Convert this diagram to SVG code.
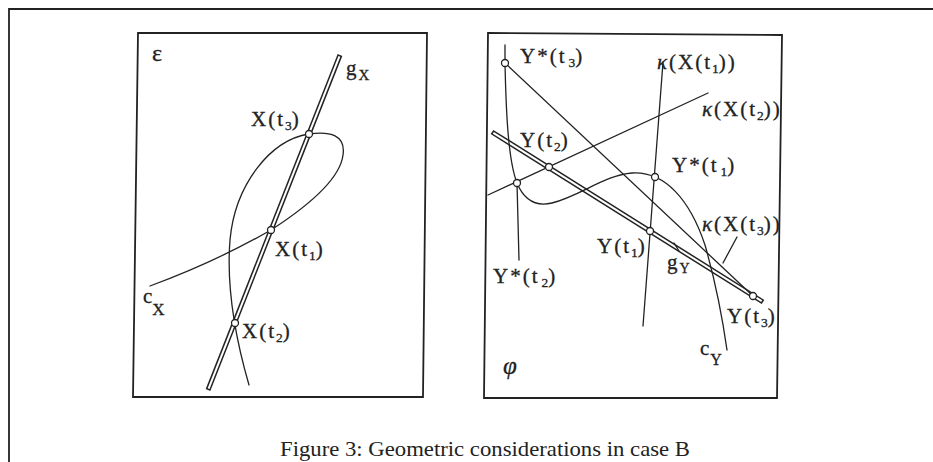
<svg xmlns="http://www.w3.org/2000/svg" width="933" height="462" viewBox="0 0 933 462">
<style>
.frame{fill:none;stroke:#222;stroke-width:1.8}
.thin{fill:none;stroke:#222;stroke-width:1.3;stroke-linecap:round}
.dbo{fill:none;stroke:#222;stroke-width:5}
.dbi{fill:none;stroke:#fff;stroke-width:2}
.pt{fill:#fff;stroke:#222;stroke-width:1.3}
.lb{font-family:"Liberation Serif","Times New Roman",serif;font-size:21px;letter-spacing:2px;fill:#222;stroke:#222;stroke-width:0.3}
.sub{font-size:13.5px;letter-spacing:0}
.gr{font-style:italic}
.cap{font-family:"Liberation Serif","Times New Roman",serif;font-size:22px;fill:#222}
</style>
<rect width="933" height="462" fill="#fff"/>
<path class="frame" d="M933,9 L9,9 L9,462"/>

<g id="panel-epsilon">
  <polygon class="frame" points="138,33 427,33 423,397 133,397"/>
  <text class="lb" x="152" y="61" style="font-size:24px">ε</text>
</g>

<g id="panel-phi">
  <polygon class="frame" points="488,33 782,35 777,398 484,398"/>
  <text class="lb gr" x="503" y="374" style="font-size:25px">φ</text>
</g>

<g id="connectors">
  <!-- left panel -->
  <line class="dbo" x1="340" y1="55" x2="208" y2="390"/>
  <line class="dbi" x1="339.4" y1="56.4" x2="208.6" y2="388.6"/>
  <path class="thin" d="M150,286 Q215,262 271,230 C305,208 340,180 343,155 C346,135 330,131 309,134 C270,140 235,185 230,240 C226,290 236,340 249,385"/>
  <!-- right panel -->
  <line class="dbo" x1="492" y1="132" x2="763" y2="302"/>
  <line class="dbi" x1="493.3" y1="132.8" x2="761.7" y2="301.2"/>
  <path class="thin" d="M505,45 L505,63 C506,110 508,160 517,183 C524,200 535,207 552,203 C580,196 605,175 632,173 C665,171 690,200 705,245 C715,280 722,315 727,350"/>
  <line class="thin" x1="517" y1="183" x2="519" y2="260"/>
  <line class="thin" x1="663" y1="62" x2="643" y2="326"/>
  <line class="thin" x1="488" y1="195" x2="708" y2="93"/>
  <line class="thin" x1="505" y1="63" x2="753" y2="296"/>
  <line class="thin" x1="737" y1="237" x2="723" y2="263"/>
  <line class="thin" x1="674" y1="243" x2="679" y2="251"/>
</g>

<g id="points">
  <circle class="pt" cx="309" cy="134" r="3.5"/>
  <circle class="pt" cx="271" cy="230" r="3.5"/>
  <circle class="pt" cx="235" cy="323" r="3.5"/>
  <circle class="pt" cx="505" cy="63" r="3.5"/>
  <circle class="pt" cx="549" cy="167" r="3.5"/>
  <circle class="pt" cx="517" cy="183" r="3.5"/>
  <circle class="pt" cx="655" cy="177" r="3.5"/>
  <circle class="pt" cx="650" cy="231" r="3.5"/>
  <circle class="pt" cx="753" cy="296" r="3.5"/>
</g>

<g id="labels-left">
  <text class="lb" x="251" y="126">X(t<tspan class="sub" dy="4">3</tspan><tspan dy="-4">)</tspan></text>
  <text class="lb" x="275" y="256">X(t<tspan class="sub" dy="4">1</tspan><tspan dy="-4">)</tspan></text>
  <text class="lb" x="242" y="338">X(t<tspan class="sub" dy="4">2</tspan><tspan dy="-4">)</tspan></text>
  <text class="lb" x="346" y="75">g<tspan class="sub" dy="5" style="font-size:15px">X</tspan></text>
  <text class="lb" x="143" y="303">c<tspan dx="-2" dy="12" style="font-size:17px">X</tspan></text>
</g>

<g id="labels-right">
  <text class="lb" x="520" y="63">Y*(t<tspan class="sub" dx="2" dy="4">3</tspan><tspan dy="-4">)</tspan></text>
  <text class="lb" x="657" y="69"><tspan class="gr">κ</tspan>(X(t<tspan class="sub" dy="4">1</tspan><tspan dy="-4">))</tspan></text>
  <text class="lb" x="702" y="116"><tspan class="gr">κ</tspan>(X(t<tspan class="sub" dy="4">2</tspan><tspan dy="-4">))</tspan></text>
  <text class="lb" x="520" y="147">Y(t<tspan class="sub" dy="4">2</tspan><tspan dy="-4">)</tspan></text>
  <text class="lb" x="672" y="172">Y*(t<tspan class="sub" dx="2" dy="4">1</tspan><tspan dy="-4">)</tspan></text>
  <text class="lb" x="702" y="231"><tspan class="gr">κ</tspan>(X(t<tspan class="sub" dy="4">3</tspan><tspan dy="-4">))</tspan></text>
  <text class="lb" x="597" y="253">Y(t<tspan class="sub" dy="4">1</tspan><tspan dy="-4">)</tspan></text>
  <text class="lb" x="667" y="269">g<tspan class="sub" dy="4" style="font-size:14px">Y</tspan></text>
  <text class="lb" x="493" y="283">Y*(t<tspan class="sub" dx="2" dy="4">2</tspan><tspan dy="-4">)</tspan></text>
  <text class="lb" x="727" y="323">Y(t<tspan class="sub" dy="4">3</tspan><tspan dy="-4">)</tspan></text>
  <text class="lb" x="700" y="355">c<tspan dx="-1" dy="10" style="font-size:16px">Y</tspan></text>
</g>

<text class="cap" x="280" y="456" textLength="410" lengthAdjust="spacingAndGlyphs">Figure 3: Geometric considerations in case B</text>
</svg>
